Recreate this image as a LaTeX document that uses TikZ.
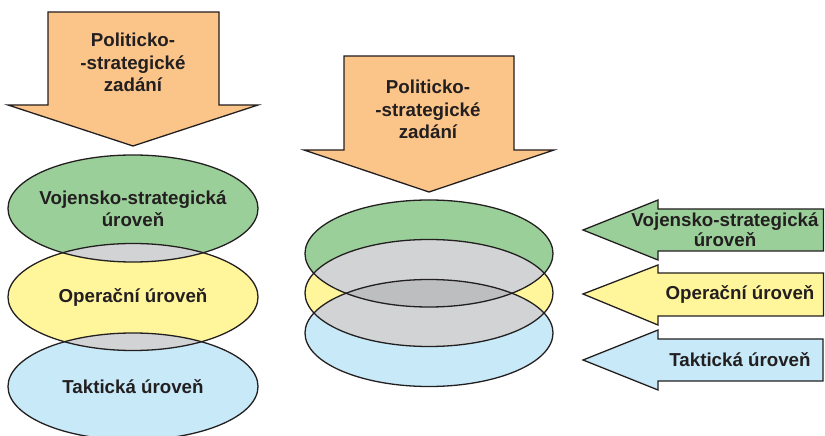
\documentclass[tikz,border=0pt]{standalone}
\usepackage{fontspec}
\setmainfont{Liberation Sans}
\usetikzlibrary{calc}
\definecolor{arroworange}{HTML}{FBC58A}
\definecolor{lvlgreen}{HTML}{9BCF99}
\definecolor{lvlyellow}{HTML}{FFF59B}
\definecolor{lvlblue}{HTML}{C7E9F8}
\definecolor{lensgray}{HTML}{D1D3D4}
\definecolor{lensdark}{HTML}{BCBEC0}
\definecolor{edgedark}{HTML}{231F20}
\tikzset{
	outline/.style={line width=1.3bp, draw=edgedark, line join=miter},
	lvltext/.style={align=center, text=edgedark, font=\bfseries\fontsize{18.8}{22.5}\selectfont, inner sep=0pt},
	sidetext/.style={align=center, text=edgedark, font=\bfseries\fontsize{18.8}{20}\selectfont, inner sep=0pt}
}
\def\rx{125bp}
\def\ry{53.5bp}

\begin{document}
\begin{tikzpicture}[x=1bp, y=-1bp]
			%%%%% START %%%%%
			\useasboundingbox (0, 0) rectangle (825, 436);
			
			\coordinate (gL) at (133, 208.5);
			\coordinate (yL) at (133, 297);
			\coordinate (bL) at (133, 386.5);
			\coordinate (gM) at (429, 253.5);
			\coordinate (yM) at (429, 293);
			\coordinate (bM) at (429, 333);
			
			% down arrows
			\draw[outline, fill=arroworange] (48, 12) -- (219, 12) -- (219, 105) -- (258, 105) -- (133, 146) -- (8, 105) -- (48, 105) -- cycle;
			\draw[outline, fill=arroworange] (344, 56) -- (514, 56) -- (514, 150) -- (554, 150) -- (429, 192) -- (304, 150) -- (344, 150) -- cycle;
			
			% left stack
			\fill[lvlblue] (bL) ellipse [x radius=\rx, y radius=\ry];
			\fill[lvlyellow] (yL) ellipse [x radius=\rx, y radius=\ry];
			\fill[lvlgreen] (gL) ellipse [x radius=\rx, y radius=\ry];
			\begin{scope}
				\clip (gL) ellipse [x radius=\rx, y radius=\ry];
				\fill[lensgray] (yL) ellipse [x radius=\rx, y radius=\ry];
			\end{scope}
			\begin{scope}
				\clip (yL) ellipse [x radius=\rx, y radius=\ry];
				\fill[lensgray] (bL) ellipse [x radius=\rx, y radius=\ry];
			\end{scope}
			\draw[outline] (gL) ellipse [x radius=\rx, y radius=\ry];
			\draw[outline] (yL) ellipse [x radius=\rx, y radius=\ry];
			\draw[outline] (bL) ellipse [x radius=\rx, y radius=\ry];
			
			% middle stack
			\fill[lvlblue] (bM) ellipse [x radius=124bp, y radius=\ry];
			\fill[lvlyellow] (yM) ellipse [x radius=124bp, y radius=\ry];
			\fill[lvlgreen] (gM) ellipse [x radius=124bp, y radius=\ry];
			\begin{scope}
				\clip (gM) ellipse [x radius=124bp, y radius=\ry];
				\fill[lensgray] (yM) ellipse [x radius=124bp, y radius=\ry];
				\fill[lensgray] (bM) ellipse [x radius=124bp, y radius=\ry];
			\end{scope}
			\begin{scope}
				\clip (yM) ellipse [x radius=124bp, y radius=\ry];
				\fill[lensgray] (bM) ellipse [x radius=124bp, y radius=\ry];
			\end{scope}
			\begin{scope}
				\clip (gM) ellipse [x radius=124bp, y radius=\ry];
				\clip (yM) ellipse [x radius=124bp, y radius=\ry];
				\fill[lensdark] (bM) ellipse [x radius=124bp, y radius=\ry];
			\end{scope}
			\draw[outline] (gM) ellipse [x radius=124bp, y radius=\ry];
			\draw[outline] (yM) ellipse [x radius=124bp, y radius=\ry];
			\draw[outline] (bM) ellipse [x radius=124bp, y radius=\ry];
			
			% side arrows
			\draw[outline, fill=lvlgreen] (583, 230) -- (658, 200) -- (658, 209) -- (823.5, 209) -- (823.5, 251) -- (658, 251) -- (658, 260) -- cycle;
			\draw[outline, fill=lvlyellow] (583, 294) -- (658, 265) -- (658, 273) -- (823.5, 273) -- (823.5, 316) -- (658, 316) -- (658, 325) -- cycle;
			\draw[outline, fill=lvlblue] (583, 360) -- (658, 330) -- (658, 339) -- (823, 339) -- (823, 381) -- (658, 381) -- (658, 390) -- cycle;
			
			% texts
			\node[lvltext] (taskL) at (133, 62.5) {Politicko-\\-strategické\\zadání};
			\node[lvltext] (taskM) at (428, 109.5) {Politicko-\\-strategické\\zadání};
			\node[lvltext] (vsL) at (gL) {Vojensko-strategická\\úroveň};
			\node[lvltext] (opL) at (yL) {Operační úroveň};
			\node[lvltext] (takL) at (bL) {Taktická úroveň};
			\node[sidetext] (vsR) at (725, 230) {Vojensko-strategická\\úroveň};
			\node[sidetext] (opR) at (740, 294) {Operační úroveň};
			\node[sidetext] (takR) at (740, 360) {Taktická úroveň};
			
			%%%%% END %%%%%
\end{tikzpicture}
\end{document}
